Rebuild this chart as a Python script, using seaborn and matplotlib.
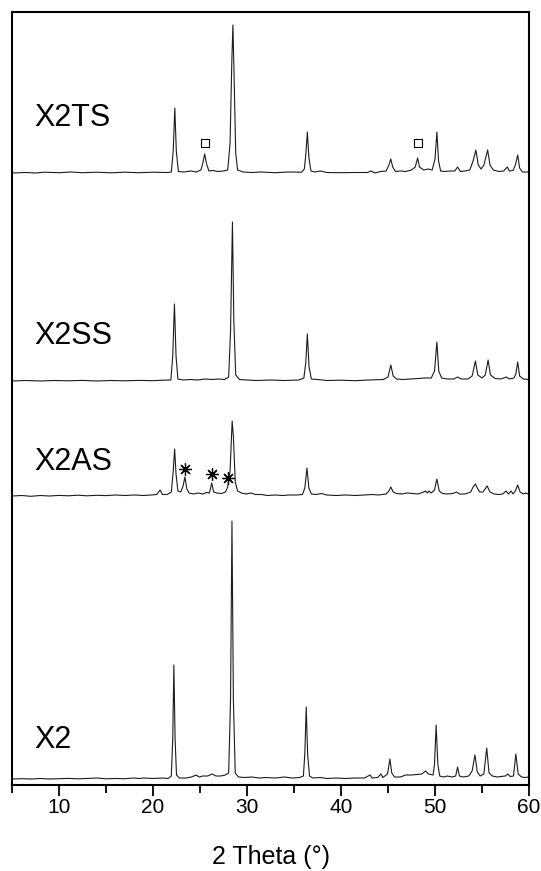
import matplotlib
matplotlib.use("Agg")
import matplotlib.pyplot as plt
from matplotlib.ticker import MultipleLocator
import seaborn as sns
import pandas as pd
import numpy as np

# ---------------- data (2-theta, relative intensity above each trace's baseline) -------------
samples = ["X2TS", "X2SS", "X2AS", "X2"]

X2TS_pts = [(5.0,0),(6.5,0.5),(7.5,0),(8.5,0.8),(10.0,0.3),(11.2,1.0),(12.5,0.3),(14.0,0.8),(15.5,0.2),
            (17.0,0.8),(18.5,0.3),(20.0,0.8),(21.5,0.5),(21.95,1),(22.15,22),(22.32,65),(22.48,22),(22.7,1.5),
            (23.3,1),(24.0,2),(24.6,1),(25.1,3),(25.3,10),(25.5,19),(25.7,9),(25.95,2),(26.4,2.5),(26.9,1.5),
            (27.5,2),(27.95,3),(28.2,30),(28.38,110),(28.5,148),(28.62,100),(28.8,20),(29.0,3),(29.6,1),
            (30.5,0.5),(31.5,1),(33.0,0.3),(34.5,1),(35.8,0.8),(36.1,4),(36.27,20),(36.42,41),(36.58,16),
            (36.8,2),(37.2,1),(37.8,2),(38.5,0.5),(40.0,0.3),(41.5,0.5),(42.8,0.5),(43.2,2),(43.6,0),(44.2,1.5),
            (44.8,2),(45.1,8),(45.3,14),(45.5,6),(45.8,1.5),(46.3,2),(46.9,1.5),(47.5,3),(47.9,6),(48.15,15),
            (48.35,6),(48.8,3),(49.3,4),(49.7,3),(50.0,14),(50.2,41),(50.38,12),(50.6,2),(51.0,1.5),(51.6,2),
            (52.1,2),(52.4,6),(52.7,1.5),(53.2,2),(53.7,3),(54.05,12),(54.35,23),(54.6,8),(54.9,4),(55.2,8),
            (55.6,23),(55.85,8),(56.2,3),(56.8,1.5),(57.3,2),(57.7,6),(57.9,2),(58.3,2.5),(58.55,8),(58.8,18),
            (59.0,5),(59.3,1),(59.8,1),(60.0,0.5)]

X2SS_pts = [(5.0,0),(6.5,0.5),(8.0,0),(9.5,0.5),(11.0,0.2),(12.5,0.6),(14.0,0),(15.5,0.5),(17.0,0.2),
            (18.5,0.6),(20.0,0.3),(21.0,0.8),(21.9,1),(22.1,25),(22.28,77),(22.45,25),(22.65,2),(23.2,1),
            (24.0,1.5),(24.8,1),(25.5,2),(26.3,1.5),(27.0,2),(27.6,1.5),(28.05,4),(28.25,50),(28.45,159),
            (28.6,60),(28.8,6),(29.2,1.5),(30.0,1),(31.0,0.5),(32.5,1),(34.0,0.5),(35.5,1),(36.05,3),(36.25,18),
            (36.42,47),(36.6,14),(36.85,2),(37.5,1.5),(38.5,0.5),(40.0,0.8),(41.5,0.3),(43.0,1),(44.5,1.5),
            (45.0,4),(45.3,16),(45.55,5),(45.9,2),(46.6,1.5),(47.4,2),(48.2,2.5),(48.9,3),(49.6,3),(49.95,10),
            (50.2,39),(50.4,10),(50.7,3),(51.3,2),(52.0,2),(52.4,4),(52.8,2),(53.5,2),(53.95,5),(54.3,20),
            (54.55,6),(55.0,3),(55.35,6),(55.65,21),(55.9,6),(56.4,2.5),(57.0,2),(57.6,4),(57.9,2),(58.4,3),
            (58.6,7),(58.8,19),(59.0,5),(59.4,2),(60.0,1.5)]

X2AS_pts = [(5.0,0),(6.0,0.5),(7.0,-0.3),(8.0,0.5),(9.0,0),(10.0,0.6),(11.0,0.2),(12.0,0.8),(13.0,0.2),
            (14.0,0.7),(15.0,0.4),(16.0,1.0),(17.0,0.5),(18.0,1.0),(19.0,0.5),(19.8,1.0),(20.4,1.5),(20.75,6),
            (21.0,1.5),(21.5,1.5),(21.95,4),(22.15,25),(22.3,47),(22.45,22),(22.65,5),(22.95,4),(23.2,10),
            (23.4,19),(23.6,7),(23.85,3),(24.3,2),(24.8,3),(25.3,2),(25.7,3.5),(26.0,3),(26.25,13),(26.45,4),
            (26.8,3),(27.3,2.5),(27.7,4),(27.95,9),(28.2,25),(28.42,75),(28.55,60),(28.75,14),(29.0,5),(29.4,3),
            (29.9,2),(30.4,3),(30.9,1.5),(31.5,1.5),(32.2,0.5),(33.0,1),(33.8,0.5),(34.5,1),(35.3,1),(35.9,1.5),
            (36.15,8),(36.38,28),(36.58,8),(36.85,2),(37.4,1.5),(37.9,2.5),(38.5,1),(39.5,0.5),(40.5,1),
            (41.5,0.5),(42.5,1),(43.3,1.5),(44.0,1),(44.8,2),(45.1,5),(45.3,9),(45.55,4),(45.9,2.5),(46.5,2),
            (47.0,3),(47.6,2.5),(48.2,2),(48.8,4),(49.0,5),(49.2,3),(49.35,5),(49.6,3),(49.95,6),(50.2,17),
            (50.45,5),(50.8,2.5),(51.3,2),(51.9,2.5),(52.3,4),(52.6,2),(53.2,2),(53.8,4),(54.05,9),(54.3,12),
            (54.5,8),(54.75,4),(55.1,4),(55.55,10),(55.85,4),(56.3,2),(56.8,1.5),(57.2,2),(57.55,5),(57.8,2),
            (58.1,5),(58.3,2),(58.55,5),(58.8,11),(59.05,4),(59.4,2),(59.7,3),(60.0,1.5)]

X2_pts = [(5.0,0),(6.0,0.3),(7.0,0),(8.0,0.5),(9.0,0),(10.0,0.3),(11.0,0.6),(12.0,0.2),(13.0,0.5),(14.0,1),
          (15.0,0.2),(16.0,0.5),(17.0,0.3),(18.0,1),(18.5,0.5),(19.0,1),(20.0,0.5),(21.0,1),(21.6,0.5),
          (21.95,3),(22.1,40),(22.22,114),(22.35,40),(22.5,4),(22.8,1),(23.5,1),(24.1,2),(24.6,4),(24.9,2),
          (25.3,3),(25.8,3),(26.3,5),(26.7,3),(27.2,3),(27.7,4),(28.05,6),(28.25,80),(28.4,258),(28.55,80),
          (28.75,6),(29.1,2),(29.8,1.5),(30.5,2),(31.3,1),(32.0,1.5),(33.0,1),(34.0,2),(34.8,1),(35.6,1.5),
          (36.0,3),(36.15,25),(36.3,72),(36.45,25),(36.65,3),(37.0,1),(37.8,1.5),(38.5,0.5),(39.5,1),
          (40.5,0.5),(41.5,1),(42.5,1),(43.1,4),(43.3,1),(43.9,1.5),(44.25,5),(44.45,1.5),(44.95,5),(45.2,20),
          (45.4,6),(45.7,2),(46.3,2),(46.9,4),(47.5,4),(48.1,4.5),(48.6,5),(49.0,8),(49.3,5),(49.8,4),
          (49.95,15),(50.12,54),(50.3,15),(50.5,3),(50.9,2),(51.3,3),(51.8,2),(52.2,3),(52.4,12),(52.6,3),
          (53.0,2),(53.6,3),(53.95,8),(54.25,24),(54.5,7),(54.8,3),(55.2,5),(55.5,31),(55.75,6),(56.1,3),
          (56.6,2),(57.0,2.5),(57.5,3),(57.75,5),(58.0,2.5),(58.35,3),(58.6,25),(58.85,5),(59.2,2),(59.6,1.5),
          (60.0,2)]

# phase markers (2-theta, height above baseline)
square_marks = [(25.5, 30), (48.15, 30)]            # on X2TS
asterisk_marks = [(23.4, 27), (26.3, 22), (28.0, 18)]  # on X2AS

xticks = [10, 20, 30, 40, 50, 60]

# ---------------- layout constants ----------------
offsets = {"X2TS": 612, "X2SS": 404, "X2AS": 289, "X2": 6}
label_y = {"X2TS": 667, "X2SS": 449, "X2AS": 323, "X2": 45}
series = {"X2TS": X2TS_pts, "X2SS": X2SS_pts, "X2AS": X2AS_pts, "X2": X2_pts}

sns.set_theme(style="ticks")
plt.rcParams['font.family'] = ['Liberation Sans', 'DejaVu Sans']

W, H = 541, 871
fig = plt.figure(figsize=(W / 100, H / 100), dpi=100)
ax = fig.add_axes([12 / W, 86 / H, 517 / W, 773 / H])

line_color = "#1c1c1c"
for name in samples:
    pts = series[name]
    df = pd.DataFrame(pts, columns=["two_theta", "intensity"])
    df["y"] = df["intensity"] + offsets[name]
    sns.lineplot(data=df, x="two_theta", y="y", ax=ax, color=line_color,
                 linewidth=0.8, estimator=None, sort=False)
    ax.text(7.4, label_y[name], name, fontsize=22, va="center", ha="left", color="black")

# markers
sq = pd.DataFrame(square_marks, columns=["x", "h"])
sns.scatterplot(x=sq["x"], y=sq["h"] + offsets["X2TS"], ax=ax, marker="s", s=30,
                facecolor="white", edgecolor="black", linewidth=0.8)
ast = pd.DataFrame(asterisk_marks, columns=["x", "h"])
ax.plot(ast["x"], ast["h"] + offsets["X2AS"], linestyle="none", marker=(8, 2, 0),
        markersize=9, markeredgewidth=0.9, color="black")

ax.set_xlim(5, 60)
ax.set_ylim(0, 773)
ax.set_yticks([])
ax.set_ylabel("")
ax.set_xticks(xticks)
ax.xaxis.set_minor_locator(MultipleLocator(5))
ax.tick_params(axis="x", which="major", direction="out", length=8, width=1.3,
               labelsize=15, pad=1.5, colors="black", labelcolor="black")
ax.tick_params(axis="x", which="minor", direction="out", length=6, width=1.3, colors="black")
for sp in ax.spines.values():
    sp.set_visible(True)
    sp.set_linewidth(1.5)
    sp.set_color("black")
ax.set_xlabel("2 Theta (°)", fontsize=18, labelpad=20, color="black")

fig.savefig("out.png", dpi=100)
